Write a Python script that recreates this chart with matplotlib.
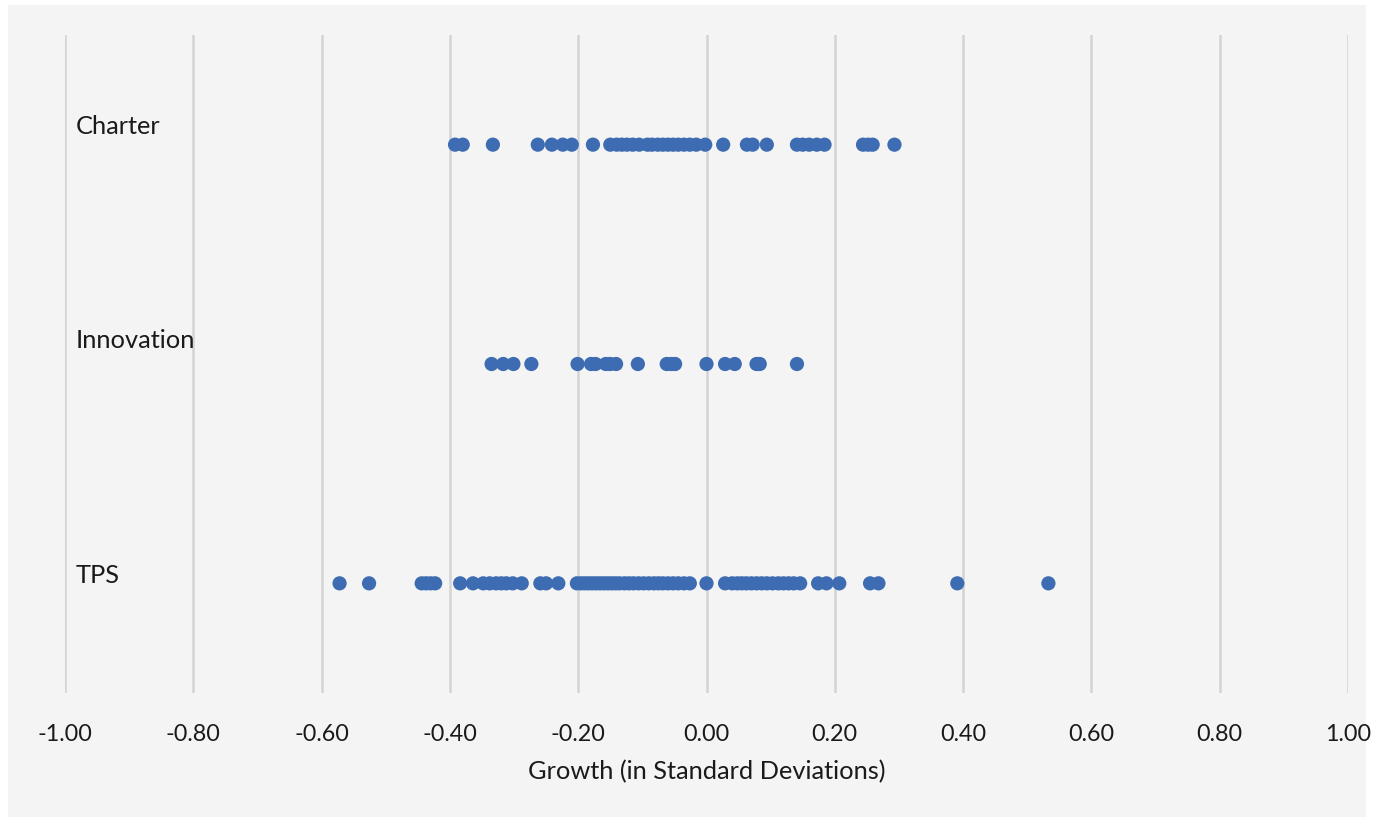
import matplotlib.pyplot as plt

# growth values (standard deviations)
charter = [-0.392, -0.380, -0.333, -0.263, -0.241, -0.224, -0.210, -0.177,
           -0.150, -0.140, -0.132, -0.124, -0.115, -0.105, -0.092, -0.085,
           -0.076, -0.068, -0.060, -0.052, -0.044, -0.035, -0.026, -0.016,
           -0.002, 0.026, 0.063, 0.072, 0.094, 0.141, 0.150, 0.160, 0.172,
           0.184, 0.244, 0.252, 0.259, 0.293]
innovation = [-0.335, -0.317, -0.301, -0.273, -0.201, -0.180, -0.173, -0.157,
              -0.150, -0.141, -0.107, -0.062, -0.055, -0.049, 0.000, 0.029,
              0.044, 0.078, 0.083, 0.141]
tps = [-0.572, -0.526, -0.444, -0.437, -0.430, -0.423, -0.384, -0.364,
       -0.348, -0.338, -0.328, -0.320, -0.312, -0.302, -0.288, -0.259,
       -0.250, -0.231, -0.202, -0.196, -0.190, -0.184, -0.178, -0.172,
       -0.166, -0.160, -0.154, -0.148, -0.142, -0.136, -0.128, -0.121,
       -0.114, -0.106, -0.098, -0.090, -0.082, -0.075, -0.068, -0.060,
       -0.052, -0.044, -0.035, -0.026, 0.000, 0.029, 0.040, 0.048, 0.055,
       0.062, 0.070, 0.078, 0.086, 0.094, 0.103, 0.112, 0.120, 0.128,
       0.136, 0.146, 0.174, 0.187, 0.207, 0.255, 0.268, 0.391, 0.533]

groups = ["Charter", "Innovation", "TPS"]
group_y = [2.5, 1.5, 0.5]
label_y = [2.585, 1.605, 0.535]
xticks = [-1.0, -0.8, -0.6, -0.4, -0.2, 0.0, 0.2, 0.4, 0.6, 0.8, 1.0]

plt.rcParams['font.family'] = ['Lato', 'DejaVu Sans']

fig = plt.figure(figsize=(13.84, 8.17), dpi=100)
fig.patch.set_facecolor('white')

# grey chart area behind the plot
bg = fig.add_axes([8 / 1384, 0, 1358 / 1384, 812 / 817])
bg.set_facecolor('#f4f4f4')
bg.set_xticks([])
bg.set_yticks([])
for s in bg.spines.values():
    s.set_visible(False)
bg.set_zorder(0)

ax = fig.add_axes([65 / 1384, 124 / 817, 1283 / 1384, 658 / 817])
ax.set_zorder(1)
ax.patch.set_alpha(0)

for vals, y in zip([charter, innovation, tps], group_y):
    ax.scatter(vals, [y] * len(vals), s=105, color='#3d6cb2',
               edgecolors='none', zorder=3)

for name, y in zip(groups, label_y):
    ax.text(-0.984, y, name, fontsize=18.3, color='#1a1a1a',
            ha='left', va='center')

ax.set_xlim(-1, 1)
ax.set_ylim(0, 3)
ax.set_xticks(xticks)
ax.set_xticklabels(['%.2f' % t for t in xticks])
ax.set_yticks([])
ax.tick_params(axis='x', length=0, pad=22, labelsize=16.8, labelcolor='#1a1a1a')
for s in ax.spines.values():
    s.set_visible(False)
ax.set_axisbelow(True)
ax.grid(axis='x', color='#d4d4d4', linewidth=1.8)
ax.set_xlabel("Growth (in Standard Deviations)", fontsize=18.3,
              color='#1a1a1a', labelpad=11)

fig.savefig('out.png', dpi=100, facecolor=fig.get_facecolor())
